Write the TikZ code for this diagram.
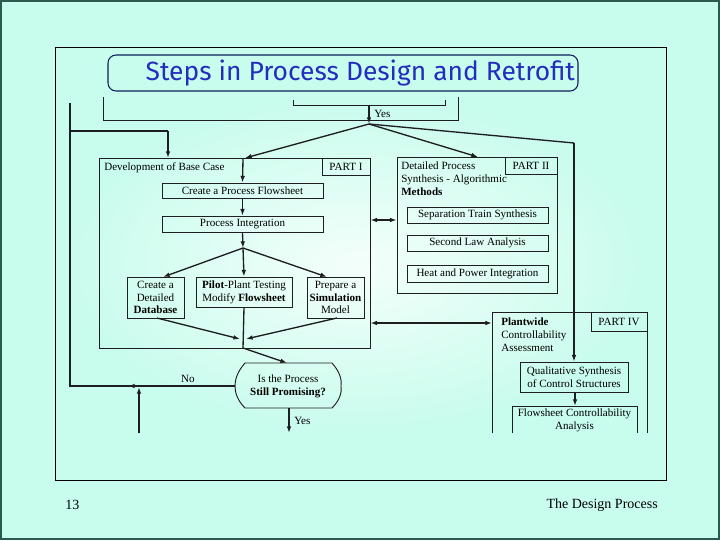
\documentclass[tikz,border=0pt]{standalone}
\usepackage{fontspec}
\setmainfont{Liberation Serif}
\newfontfamily\titlefont{Fira Sans}
\usetikzlibrary{arrows.meta,fit}
\definecolor{mint}{RGB}{200,252,236}
\definecolor{slideedge}{RGB}{45,90,78}
\definecolor{titleblue}{RGB}{35,45,190}
\definecolor{titlenavy}{RGB}{15,30,90}
\definecolor{ink}{RGB}{30,30,30}
\tikzset{
  blk/.style={draw=ink, line width=0.6pt, inner sep=0pt},
  flow/.style={draw=ink, line width=1pt, -{Latex[length=5pt,width=3.5pt]}},
  both/.style={draw=ink, line width=1pt, {Latex[length=5pt,width=3.5pt]}-{Latex[length=5pt,width=3.5pt]}},
  wire/.style={draw=ink, line width=1pt},
  txt/.style={font=\fontsize{8.3}{9.6}\selectfont, inner sep=0.75pt, align=center},
}
\begin{document}
\begin{tikzpicture}[x=0.75pt,y=0.75pt,yscale=-1,xscale=1]
\useasboundingbox (0,0) rectangle (720,540);
% slide background and frame
\fill[mint] (0,0) rectangle (720,540);
\draw[slideedge, line width=1.5pt] (0.75,0.75) rectangle (719.25,539.25);
\shade[inner color=white!80!mint, outer color=mint] (62,95) rectangle (650,433);
\draw[black, line width=0.75pt] (55,47) rectangle (666,480);

% Title
\node[fit={(108,55) (578,91)}, draw=titlenavy, line width=0.8pt, rounded corners=6pt, inner sep=0pt] (title) {};
\node[text=titleblue, font=\titlefont\fontsize{19.8}{22}\selectfont] (titletxt) at ([xshift=13]title.center) {Steps in Process Design and Retrofit};

% top of the previous step (cut off)
\draw[blk] (103,97) -- (103,120) -- (458,120) -- (458,97);
\draw[blk] (293,100) -- (293,105) -- (445,105) -- (445,100);
\coordinate (yesin) at (369,105);
\coordinate (top) at (369,124);
\draw[flow] (yesin) -- (top);
\node[txt, anchor=west] (yes1) at (373,114) {Yes};

% PART I
\node[blk, fit={(99,158) (370,348)}] (p1) {};
\node[blk, fit={(322,158) (370,175)}] (p1lbl) {};
\node[txt] at (p1lbl) {PART I};
\node[txt, anchor=west] (p1txt) at (103,168) {Development of Base Case};
\node[blk, fit={(162,183) (323,198)}] (cpf) {};
\node[txt] at (cpf) {Create a Process Flowsheet};
\node[blk, fit={(162,216) (323,232)}] (pint) {};
\node[txt] at (pint) {Process Integration};
\node[blk, fit={(127,277) (184,318)}] (dbase) {};
\node[txt] at (dbase) {Create a\\Detailed\\\textbf{Database}};
\node[blk, fit={(196,277) (292,307)}] (pilot) {};
\node[txt] at (pilot) {\textbf{Pilot}-Plant Testing\\Modify \textbf{Flowsheet}};
\node[blk, fit={(307,277) (364,318)}] (simul) {};
\node[txt] at (simul) {Prepare a\\\textbf{Simulation}\\Model};

% PART II
\node[blk, fit={(397,157) (557,293)}] (p2) {};
\node[blk, fit={(505,157) (557,174)}] (p2lbl) {};
\node[txt] at (p2lbl) {PART II};
\node[txt, anchor=west, align=left] (p2txt) at (400,179) {Detailed Process\\Synthesis - Algorithmic\\\textbf{Methods}};
\node[blk, fit={(407,207) (548,223)}] (sep) {};
\node[txt] at (sep) {Separation Train Synthesis};
\node[blk, fit={(407,235) (548,251)}] (slaw) {};
\node[txt] at (slaw) {Second Law Analysis};
\node[blk, fit={(407,265) (548,282)}] (heat) {};
\node[txt] at (heat) {Heat and Power Integration};

% PART IV (cut off at the bottom)
\coordinate (p4w) at (492,323);
\draw[blk] (492,433) -- (492,312) -- (647,312) -- (647,433);
\node[blk, fit={(591,312) (647,331)}] (p4lbl) {};
\node[txt] at (p4lbl) {PART IV};
\node[txt, anchor=west, align=left] (p4txt) at (500,335) {\textbf{Plantwide}\\Controllability\\Assessment};
\node[blk, fit={(520,362) (628,392)}] (qual) {};
\node[txt] at (qual) {Qualitative Synthesis\\of Control Structures};
\draw[blk] (512,433) -- (512,406) -- (637,406) -- (637,433);
\node[txt] (fca) at (574.5,420) {Flowsheet Controllability\\Analysis};
\coordinate (fcatop) at (575,406);

% decision
\node[txt] (dec) at (288,386) {Is the Process\\\textbf{Still Promising?}};
\draw[blk, line width=0.7pt] (245,363) -- (332,363) .. controls (340,372) and (342,380) .. (341,386)
   .. controls (342,392) and (340,400) .. (332,408) -- (245,408) .. controls (237,400) and (235,392) .. (235,386)
   .. controls (235,380) and (237,372) .. (245,363) -- cycle;
\coordinate (decN) at (287,363);
\coordinate (decW) at (235,386);
\coordinate (decS) at (289,408);

% connectors from the Yes junction
\draw[flow] (top) -- (245,158);
\draw[flow] (top) -- (478,157);
\draw[wire] (top) -- (574,143) coordinate (corner);
\draw[flow] (corner) -- (qual.north -| corner);

% feedback loop on the left
\draw[wire] (decW) -- (70,386) -- (70,103);
\draw[ink, line width=1pt, -{Latex[length=5pt,width=3.5pt]}] (150,386) -- (128,386);
\draw[wire] (70,131) -- (168,131);
\draw[flow] (168,131) -- (168,158);
\coordinate (below) at (139,433);
\draw[flow] (below) -- (139,387);
\node[txt, anchor=south] (no) at (188,384) {No};

% inside PART I
\draw[flow] (243,159) -- (cpf.north);
\draw[flow] (cpf.south) -- (pint.north);
\coordinate (fork) at (243,248);
\draw[flow] (pint.south) -- (fork);
\draw[flow] (fork) -- (163,277);
\draw[flow] (fork) -- (pilot.north);
\draw[flow] (fork) -- (327,277);
\coordinate (merge) at (243,340);
\draw[flow] (157,318) -- (240,339);
\draw[flow] (337,318) -- (246,339);
\draw[wire] (pilot.south) -- (243,348);
\draw[flow] (243,348) -- (decN);

% links between the parts
\draw[both] (p1.east |- 0,220) -- (p2.west |- 0,220);
\draw[both] (p1.east |- 0,323) -- (p4w);
\draw[flow] (qual.south -| fcatop) -- (fcatop);

% Yes out of the decision
\draw[flow] (decS) -- (289,433);
\node[txt, anchor=west] (yes2) at (293,421) {Yes};

% footer
\node[anchor=west, font=\fontsize{10.5}{12}\selectfont, inner sep=0pt] (pnum) at (65,505) {13};
\node[anchor=east, font=\fontsize{10.5}{12}\selectfont, inner sep=0pt] (foot) at (658,505) {The Design Process};
\end{tikzpicture}
\end{document}
